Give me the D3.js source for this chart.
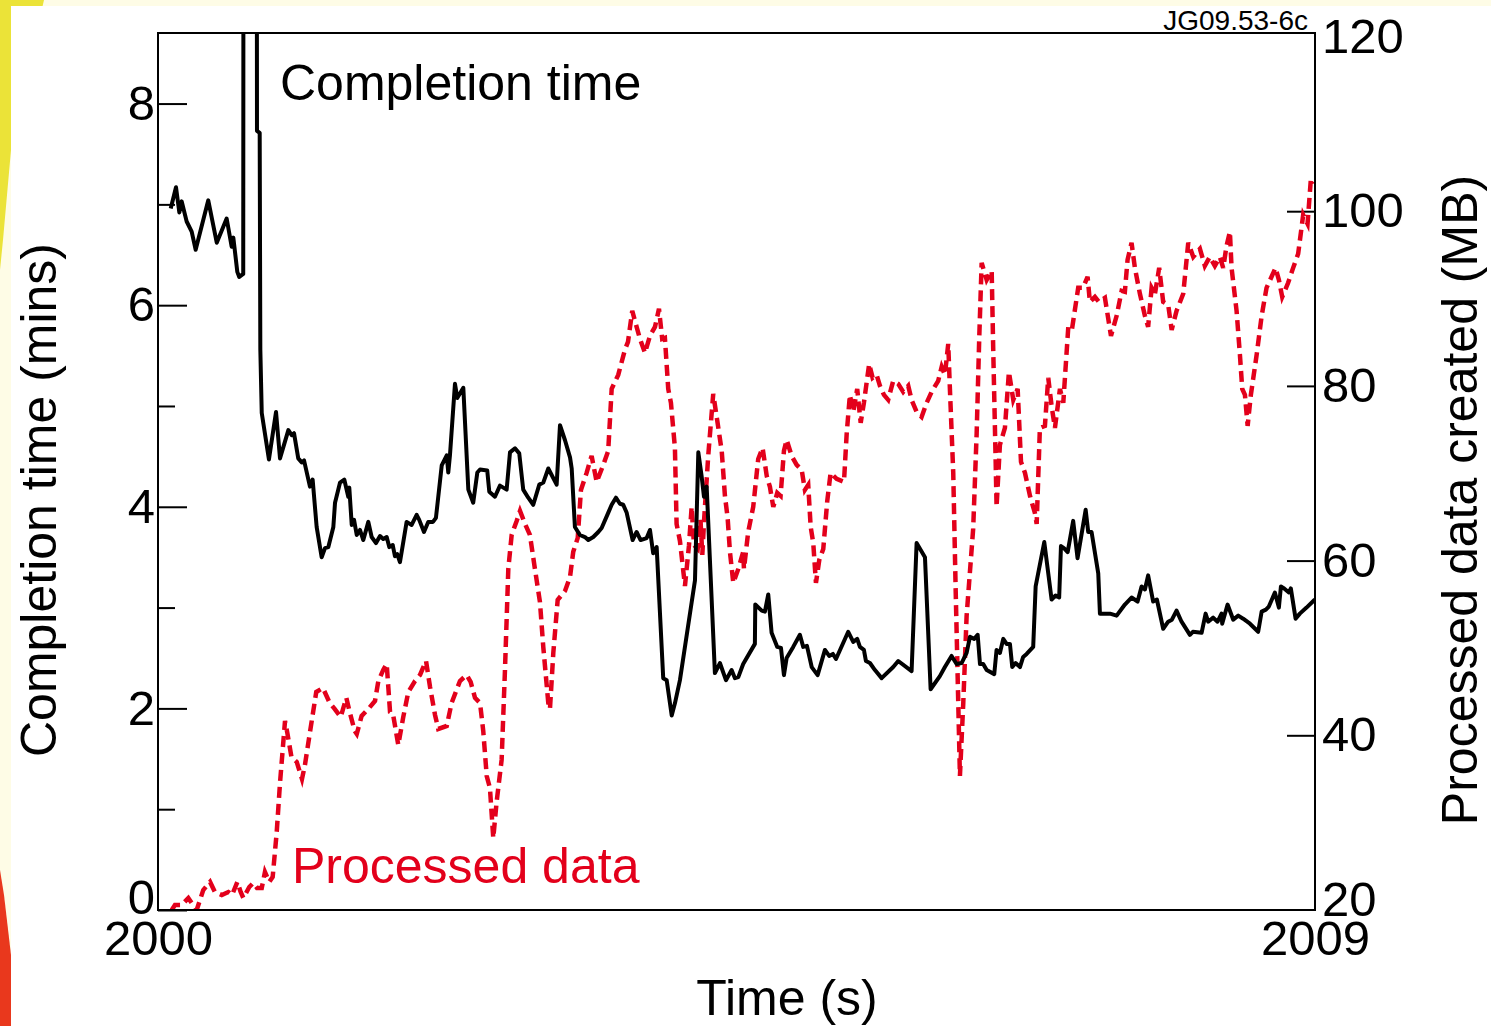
<!DOCTYPE html>
<html>
<head>
<meta charset="utf-8">
<script src="https://cdn.jsdelivr.net/npm/d3@7"></script>
<style>
    body { margin: 0; background: #fefce6; }
    svg { display: block; font-family: "Liberation Sans", Arial, Helvetica, sans-serif; }
</style>
</head>
<body>
<svg width="1491" height="1026"></svg>
<script>
// [year, minutes]
const completion = [
    [2000.099,6.96],[2000.140,7.17],[2000.166,6.92],[2000.184,7.03],[2000.223,6.83],[2000.262,6.73],[2000.293,6.55],
    [2000.391,7.04],[2000.457,6.62],[2000.534,6.86],[2000.573,6.58],[2000.586,6.67],[2000.617,6.33],[2000.632,6.28],
    [2000.663,6.31],[2000.665,10.5],[2000.768,10.5],[2000.770,7.73],[2000.791,7.71],[2000.796,5.56],[2000.807,4.93],
    [2000.863,4.47],[2000.918,4.94],[2000.949,4.48],[2001.014,4.76],[2001.040,4.71],[2001.058,4.73],[2001.091,4.48],
    [2001.118,4.44],[2001.136,4.46],[2001.182,4.20],[2001.203,4.27],[2001.234,3.80],[2001.273,3.50],[2001.299,3.59],
    [2001.325,3.60],[2001.364,3.80],[2001.377,4.04],[2001.416,4.24],[2001.449,4.27],[2001.480,4.10],[2001.488,4.19],
    [2001.507,3.82],[2001.525,3.87],[2001.546,3.72],[2001.571,3.77],[2001.597,3.67],[2001.636,3.85],[2001.662,3.70],
    [2001.696,3.64],[2001.727,3.71],[2001.752,3.68],[2001.779,3.70],[2001.799,3.60],[2001.826,3.62],[2001.843,3.51],
    [2001.861,3.53],[2001.882,3.45],[2001.934,3.85],[2001.973,3.82],[2002.012,3.92],[2002.032,3.87],[2002.069,3.75],
    [2002.102,3.85],[2002.139,3.85],[2002.162,3.89],[2002.207,4.41],[2002.246,4.51],[2002.258,4.34],[2002.271,4.51],
    [2002.310,5.22],[2002.328,5.08],[2002.375,5.18],[2002.414,4.17],[2002.452,4.04],[2002.484,4.34],[2002.505,4.37],
    [2002.561,4.36],[2002.577,4.15],[2002.621,4.10],[2002.660,4.21],[2002.712,4.17],[2002.738,4.54],[2002.777,4.58],
    [2002.810,4.53],[2002.841,4.17],[2002.880,4.09],[2002.919,4.02],[2002.966,4.22],[2002.997,4.24],[2003.036,4.38],
    [2003.101,4.22],[2003.127,4.81],[2003.166,4.66],[2003.205,4.49],[2003.218,4.38],[2003.243,3.80],[2003.282,3.72],
    [2003.321,3.70],[2003.347,3.67],[2003.386,3.70],[2003.425,3.75],[2003.451,3.79],[2003.502,3.94],[2003.529,4.02],
    [2003.562,4.09],[2003.593,4.03],[2003.619,4.02],[2003.646,3.94],[2003.692,3.67],[2003.723,3.75],[2003.754,3.67],
    [2003.801,3.69],[2003.827,3.77],[2003.852,3.54],[2003.879,3.60],[2003.930,2.30],[2003.957,2.28],[2003.996,1.93],
    [2004.021,2.05],[2004.060,2.28],[2004.151,3.05],[2004.177,3.27],[2004.203,4.54],[2004.229,4.30],[2004.247,4.10],
    [2004.268,4.20],[2004.332,2.35],[2004.371,2.45],[2004.418,2.28],[2004.462,2.38],[2004.488,2.30],[2004.514,2.31],
    [2004.552,2.44],[2004.643,2.64],[2004.646,3.03],[2004.696,2.97],[2004.721,2.96],[2004.747,3.13],[2004.773,2.75],
    [2004.817,2.61],[2004.846,2.60],[2004.869,2.33],[2004.890,2.50],[2004.941,2.61],[2004.993,2.73],[2005.019,2.61],
    [2005.048,2.62],[2005.085,2.41],[2005.131,2.33],[2005.188,2.58],[2005.221,2.52],[2005.250,2.54],[2005.274,2.49],
    [2005.369,2.76],[2005.408,2.66],[2005.439,2.69],[2005.460,2.61],[2005.491,2.58],[2005.507,2.47],[2005.538,2.45],
    [2005.577,2.38],[2005.629,2.30],[2005.719,2.41],[2005.758,2.47],[2005.862,2.37],[2005.901,3.64],[2005.966,3.50],
    [2006.010,2.19],[2006.082,2.32],[2006.121,2.41],[2006.173,2.52],[2006.212,2.44],[2006.251,2.45],[2006.290,2.55],
    [2006.316,2.71],[2006.349,2.69],[2006.376,2.73],[2006.394,2.44],[2006.419,2.44],[2006.446,2.38],[2006.505,2.34],
    [2006.523,2.58],[2006.549,2.55],[2006.575,2.69],[2006.601,2.64],[2006.627,2.64],[2006.645,2.41],[2006.671,2.45],
    [2006.705,2.41],[2006.730,2.51],[2006.757,2.54],[2006.808,2.61],[2006.827,3.21],[2006.894,3.65],[2006.951,3.08],
    [2006.982,3.12],[2007.010,3.10],[2007.024,3.61],[2007.047,3.59],[2007.076,3.55],[2007.119,3.86],[2007.153,3.49],
    [2007.216,3.97],[2007.236,3.75],[2007.262,3.75],[2007.314,3.34],[2007.327,2.94],[2007.405,2.94],[2007.457,2.92],
    [2007.521,3.03],[2007.573,3.10],[2007.620,3.06],[2007.651,3.21],[2007.677,3.18],[2007.702,3.32],[2007.741,3.06],
    [2007.770,3.08],[2007.819,2.79],[2007.858,2.86],[2007.887,2.88],[2007.923,2.97],[2007.962,2.86],[2008.027,2.73],
    [2008.050,2.76],[2008.118,2.75],[2008.149,2.94],[2008.169,2.86],[2008.208,2.90],[2008.242,2.86],[2008.273,2.94],
    [2008.278,2.84],[2008.320,3.03],[2008.364,2.88],[2008.403,2.92],[2008.441,2.89],[2008.494,2.84],[2008.558,2.76],
    [2008.585,2.96],[2008.618,2.98],[2008.641,3.01],[2008.688,3.15],[2008.719,3.00],[2008.735,3.21],[2008.760,3.19],
    [2008.797,3.15],[2008.812,3.19],[2008.849,2.89],[2008.882,2.94],[2008.934,3.00],[2008.999,3.08]
];

// [year, MB]
const processed = [
    [2000.107,20.0],[2000.132,20.57],[2000.184,20.57],[2000.236,21.37],[2000.262,20.80],[2000.301,20.0],[2000.352,22.29],
    [2000.405,23.21],[2000.443,22.06],[2000.496,21.72],[2000.547,22.06],[2000.576,21.72],[2000.617,23.21],[2000.643,22.06],
    [2000.664,21.37],[2000.710,22.63],[2000.741,23.09],[2000.770,22.52],[2000.807,22.52],[2000.832,24.35],[2000.866,23.21],
    [2000.892,23.78],[2000.923,28.82],[2000.949,34.54],[2000.988,41.64],[2001.006,40.27],[2001.038,37.52],[2001.079,36.95],
    [2001.120,35.00],[2001.143,36.60],[2001.180,40.15],[2001.231,44.96],[2001.283,45.42],[2001.336,43.70],[2001.374,43.02],
    [2001.421,42.10],[2001.465,44.28],[2001.491,42.67],[2001.530,40.50],[2001.546,40.15],[2001.584,42.22],[2001.636,43.02],
    [2001.688,43.93],[2001.714,46.22],[2001.752,47.48],[2001.779,48.17],[2001.805,42.67],[2001.828,42.44],[2001.869,38.89],
    [2001.908,42.10],[2001.947,44.96],[2001.999,46.22],[2002.038,46.91],[2002.085,48.51],[2002.116,45.54],[2002.155,42.33],
    [2002.180,40.73],[2002.246,41.07],[2002.284,43.70],[2002.349,46.22],[2002.401,46.91],[2002.432,46.11],[2002.466,44.28],
    [2002.505,43.70],[2002.530,40.50],[2002.557,35.34],[2002.582,33.97],[2002.608,28.24],[2002.634,32.37],[2002.673,37.18],
    [2002.699,47.48],[2002.725,59.05],[2002.751,62.94],[2002.790,64.54],[2002.816,65.69],[2002.855,64.20],[2002.893,62.94],
    [2002.932,59.05],[2002.971,55.27],[2002.997,50.11],[2003.036,43.70],[2003.049,43.02],[2003.075,49.43],[2003.109,55.50],
    [2003.166,56.53],[2003.205,58.13],[2003.230,61.00],[2003.265,62.60],[2003.290,68.09],[2003.334,70.04],[2003.373,71.99],
    [2003.412,69.01],[2003.464,70.96],[2003.502,72.56],[2003.529,79.66],[2003.580,81.26],[2003.632,84.13],[2003.656,85.04],
    [2003.689,88.59],[2003.723,86.76],[2003.749,85.39],[2003.788,83.78],[2003.827,85.73],[2003.866,86.76],[2003.897,88.82],
    [2003.922,85.39],[2003.943,85.50],[2003.969,79.66],[2003.990,78.06],[2004.021,72.90],[2004.034,64.20],[2004.060,62.25],
    [2004.099,57.10],[2004.130,61.68],[2004.151,66.15],[2004.169,61.80],[2004.198,61.34],[2004.220,64.66],[2004.234,60.65],
    [2004.249,64.89],[2004.280,71.99],[2004.319,79.09],[2004.346,76.45],[2004.385,72.56],[2004.410,67.41],[2004.431,64.89],
    [2004.449,61.00],[2004.475,57.45],[2004.514,59.05],[2004.552,61.00],[2004.558,59.05],[2004.591,63.28],[2004.630,66.15],
    [2004.669,71.64],[2004.703,72.90],[2004.735,69.70],[2004.760,68.44],[2004.786,66.15],[2004.817,67.75],[2004.843,67.41],
    [2004.869,72.56],[2004.890,73.82],[2004.929,71.99],[2004.968,70.96],[2005.007,70.39],[2005.032,68.09],[2005.058,68.67],
    [2005.077,63.86],[2005.097,62.03],[2005.118,57.45],[2005.144,60.08],[2005.175,61.34],[2005.206,66.83],[2005.232,70.04],
    [2005.279,69.35],[2005.336,69.01],[2005.357,74.51],[2005.382,78.97],[2005.408,77.02],[2005.439,79.66],[2005.466,75.77],
    [2005.491,78.06],[2005.532,82.52],[2005.559,80.92],[2005.590,81.26],[2005.616,80.00],[2005.647,78.97],[2005.680,78.40],
    [2005.719,80.58],[2005.758,80.23],[2005.797,79.32],[2005.836,80.00],[2005.862,78.40],[2005.901,77.02],[2005.940,76.45],
    [2005.979,78.06],[2006.018,79.32],[2006.069,80.58],[2006.096,82.18],[2006.121,81.26],[2006.147,84.81],[2006.160,79.66],
    [2006.186,70.04],[2006.205,56.53],[2006.220,46.91],[2006.238,35.34],[2006.264,43.70],[2006.290,53.67],[2006.341,63.63],
    [2006.368,74.51],[2006.388,85.39],[2006.407,94.09],[2006.446,92.14],[2006.485,93.17],[2006.497,84.13],[2006.516,71.30],
    [2006.523,66.15],[2006.549,73.25],[2006.588,75.19],[2006.619,81.61],[2006.653,78.40],[2006.687,79.66],[2006.713,71.30],
    [2006.744,70.04],[2006.783,67.41],[2006.821,65.46],[2006.835,64.20],[2006.860,75.19],[2006.899,75.42],[2006.925,80.92],
    [2006.951,77.71],[2006.977,75.19],[2007.016,79.66],[2007.042,78.06],[2007.081,86.76],[2007.109,86.42],[2007.158,91.23],
    [2007.195,91.23],[2007.231,92.49],[2007.249,89.62],[2007.288,90.19],[2007.319,89.62],[2007.366,90.08],[2007.413,85.73],
    [2007.457,88.02],[2007.496,90.88],[2007.521,90.77],[2007.542,94.43],[2007.573,96.38],[2007.599,93.51],[2007.638,90.54],
    [2007.677,88.02],[2007.702,86.76],[2007.729,91.23],[2007.755,90.54],[2007.788,93.51],[2007.819,89.62],[2007.858,89.28],
    [2007.885,86.42],[2007.923,88.59],[2007.975,90.54],[2008.014,96.38],[2008.053,94.77],[2008.105,95.69],[2008.143,93.74],
    [2008.182,94.77],[2008.221,93.74],[2008.260,94.77],[2008.286,93.51],[2008.312,96.03],[2008.338,97.64],[2008.351,93.51],
    [2008.390,88.59],[2008.416,83.55],[2008.434,79.66],[2008.455,78.97],[2008.476,75.42],[2008.501,78.97],[2008.546,83.55],
    [2008.585,88.02],[2008.623,91.23],[2008.662,92.49],[2008.693,93.51],[2008.719,92.14],[2008.745,90.19],[2008.791,91.80],
    [2008.830,93.51],[2008.869,95.12],[2008.908,99.58],[2008.942,98.55],[2008.968,103.71],[2008.986,103.14]
];

const xTicks = [2000, 2009];
const leftTicks = [0, 2, 4, 6, 8];
const leftMinor = [1, 3, 5, 7];
const rightTicks = [20, 40, 60, 80, 100, 120];

let w = 1491;
let h = 1026;
let pL = 158, pR = 1315, pT = 33, pB = 910;
let red = "#e3001b";
let fs = 49;

let svg = d3.select("svg");

// slide decoration behind the plot
svg.append("polygon")
        .attr("points", "0,0 44,0 30,60 11,150 3,240 0,270")
        .attr("fill", "#ebe338");
svg.append("rect")
        .attr("x", 11).attr("y", 6)
        .attr("width", w - 11).attr("height", h - 6)
        .attr("fill", "#ffffff");
svg.append("polygon")
        .attr("points", "0,870 4,895 11,955 11,1026 0,1026")
        .attr("fill", "#e9381d");

let xScale = d3.scaleLinear().domain([2000, 2009]).range([pL, pR]);
let yLeft = d3.scaleLinear().domain([0, 8.7]).range([pB, pT]);
let yRight = d3.scaleLinear().domain([20, 120.4]).range([pB, pT]);

svg.append("clipPath")
        .attr("id", "plot")
    .append("rect")
        .attr("x", pL).attr("y", pT)
        .attr("width", pR - pL).attr("height", pB - pT);

let styleAxis = (g) => {
    g.select(".domain").remove();
    g.attr("font-size", fs).attr("font-family", null);
    g.selectAll("line").attr("stroke-width", 2);
    g.selectAll("text").attr("fill", "#000");
};

svg.append("g")
        .attr("transform", "translate(" + pL + ",0)")
        .call(d3.axisLeft(yLeft).tickValues(leftTicks).tickSize(-29).tickPadding(3).tickFormat(d3.format("d")))
        .call(styleAxis)
        .call(g => g.selectAll("text").filter(d => d === 0).attr("dy", "0.07em"));

svg.append("g")
        .attr("transform", "translate(" + pL + ",0)")
        .call(d3.axisLeft(yLeft).tickValues(leftMinor).tickSize(-17).tickFormat(""))
        .call(styleAxis);

svg.append("g")
        .attr("transform", "translate(" + pR + ",0)")
        .call(d3.axisRight(yRight).tickValues(rightTicks).tickSize(-28).tickPadding(7))
        .call(styleAxis)
        .call(g => g.selectAll(".tick").filter(d => d === 20 || d === 120).select("line").remove())
        .call(g => g.selectAll("text").filter(d => d === 20).attr("dy", "0.11em"));

svg.append("g")
        .attr("transform", "translate(0," + pB + ")")
        .call(d3.axisBottom(xScale).tickValues(xTicks).tickSize(0).tickPadding(10).tickFormat(d3.format("d")))
        .call(styleAxis);

let lineLeft = d3.line()
        .x(d => xScale(d[0]))
        .y(d => yLeft(d[1]));
let lineRight = d3.line()
        .x(d => xScale(d[0]))
        .y(d => yRight(d[1]));

svg.append("path")
        .datum(processed)
        .attr("clip-path", "url(#plot)")
        .attr("d", lineRight)
        .attr("fill", "none")
        .attr("stroke", red)
        .attr("stroke-width", 4.5)
        .attr("stroke-dasharray", "11,6");

svg.append("path")
        .datum(completion)
        .attr("clip-path", "url(#plot)")
        .attr("d", lineLeft)
        .attr("fill", "none")
        .attr("stroke", "#000")
        .attr("stroke-width", 4)
        .attr("stroke-linejoin", "round");

svg.append("rect")
        .attr("x", pL).attr("y", pT)
        .attr("width", pR - pL).attr("height", pB - pT)
        .attr("fill", "none")
        .attr("stroke", "#000")
        .attr("stroke-width", 2);

svg.append("text")
        .attr("x", 280).attr("y", 100)
        .attr("font-size", 50)
        .text("Completion time");
svg.append("text")
        .attr("x", 292).attr("y", 883)
        .attr("font-size", 50)
        .attr("fill", red)
        .text("Processed data");

svg.append("text")
        .attr("x", 1308).attr("y", 30)
        .attr("font-size", 28)
        .attr("text-anchor", "end")
        .text("JG09.53-6c");

svg.append("text")
        .attr("x", 787).attr("y", 1015)
        .attr("font-size", 50)
        .attr("text-anchor", "middle")
        .text("Time (s)");

svg.append("text")
        .attr("transform", "translate(56,500) rotate(-90)")
        .attr("font-size", 50)
        .attr("text-anchor", "middle")
        .text("Completion time (mins)");

svg.append("text")
        .attr("transform", "translate(1477,500) rotate(-90)")
        .attr("font-size", 50)
        .attr("text-anchor", "middle")
        .text("Processed data created (MB)");
</script>
</body>
</html>
